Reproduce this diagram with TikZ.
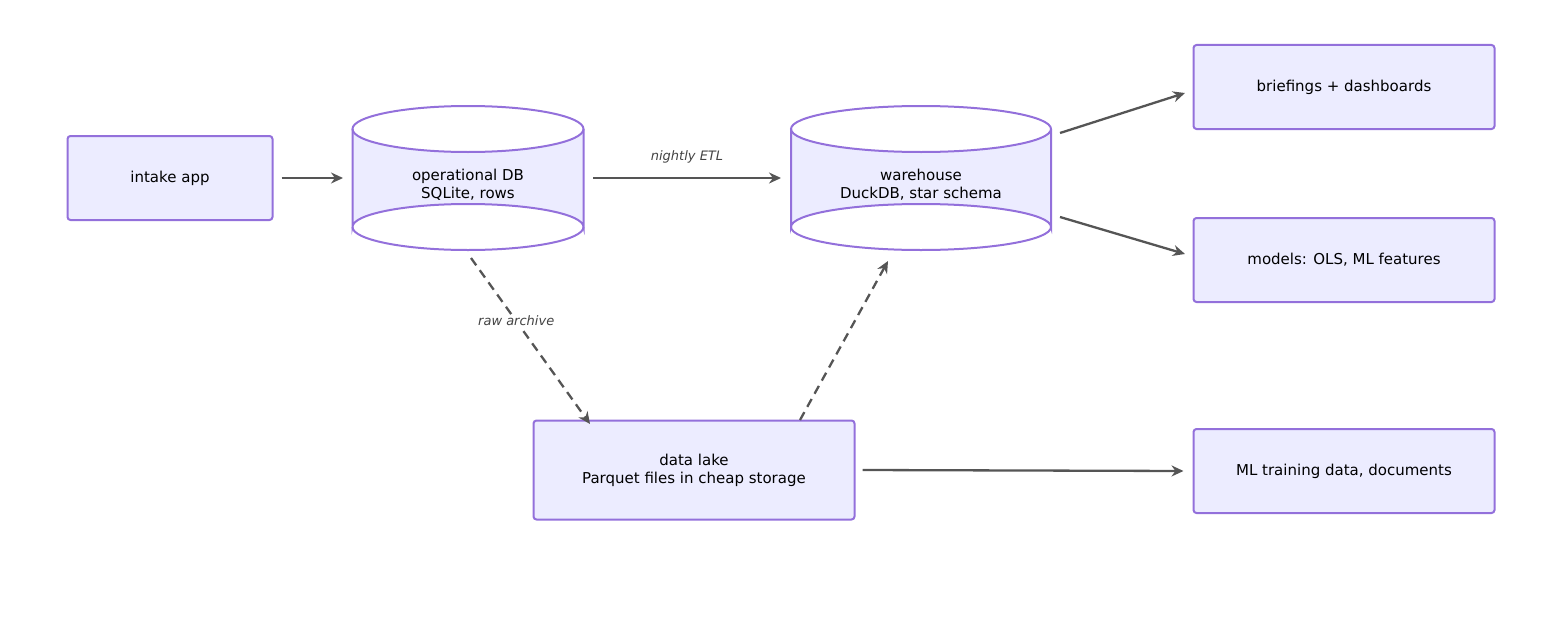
\documentclass[tikz,border=0pt]{standalone}
\usepackage{fontspec}
\setmainfont{DejaVu Sans}
\usetikzlibrary{arrows.meta}
\definecolor{nfill}{HTML}{ECECFF}
\definecolor{nstroke}{HTML}{9370DB}
\definecolor{edge}{HTML}{555555}
\definecolor{lbl}{HTML}{444444}
\begin{document}
\begin{tikzpicture}[x=1pt,y=-1pt,
  box/.style={draw=nstroke,fill=nfill,line width=2pt,rounded corners=3pt,inner sep=0pt,align=center,font=\fontsize{15}{18}\selectfont},
  txt/.style={align=center,font=\fontsize{15}{18}\selectfont,inner sep=0pt},
  conn/.style={draw=edge,line width=2.3pt,-{Stealth[length=12pt,width=11pt]}},
  dconn/.style={conn,dash pattern=on 9pt off 6pt},
  elbl/.style={font=\itshape\fontsize{13}{16}\selectfont,text=lbl,fill=white,inner sep=1pt}]
\useasboundingbox (0,0) rectangle (1552,626);
\node[box,minimum width=205,minimum height=84] (intake) at (170,178) {intake app};
\node[box,minimum width=301,minimum height=84] (brief) at (1344,87) {briefings + dashboards};
\node[box,minimum width=301,minimum height=84] (models) at (1344,260) {models: OLS, ML features};
\node[box,minimum width=301,minimum height=84] (mltrain) at (1344,471) {ML training data, documents};
\node[box,minimum width=321,minimum height=99] (lake) at (694,470) {data lake\\Parquet files in cheap storage};
% cylinders
\foreach \cx/\rx in {468/115.5, 921/130}{
  \fill[nfill] (\cx-\rx,129) -- (\cx-\rx,227) arc[start angle=180,end angle=360,x radius=\rx,y radius=23] -- (\cx+\rx,129) arc[start angle=0,end angle=180,x radius=\rx,y radius=23];
  \draw[nstroke,line width=2pt] (\cx-\rx,129) -- (\cx-\rx,227) arc[start angle=180,end angle=360,x radius=\rx,y radius=23] -- (\cx+\rx,129);
  \draw[nstroke,line width=2pt] (\cx,129) ellipse[x radius=\rx,y radius=23];
  \draw[nstroke,line width=2pt] (\cx-\rx,227) arc[start angle=180,end angle=0,x radius=\rx,y radius=23];
}
\node[txt] (opdb) at (468,185) {operational DB\\SQLite, rows};
\node[txt] (wh) at (921,185) {warehouse\\DuckDB, star schema};
\coordinate (opW) at (343,178); \coordinate (opE) at (593,178);
\coordinate (whW) at (781,178);
\coordinate (opS) at (471,258); \coordinate (whS) at (888,261);
\coordinate (whNE) at (1060,133); \coordinate (whSE) at (1060,217);
\coordinate (lakeA) at (590,424); \coordinate (lakeB) at (800,420);
\draw[conn] (intake.east) ++(8,0) -- (opW);
\draw[conn] (opE) -- (whW) node[midway,above=13pt,elbl] {nightly ETL};
\draw[conn] (whNE) -- (1185,93) coordinate (bW);
\draw[conn] (whSE) -- (1185,254) coordinate (mW);
\draw[dconn] (opS) -- (lakeA) node[pos=0.38,elbl] {raw archive};
\draw[dconn] (lakeB) -- (whS);
\draw[conn] (lake.east) ++(7,0) -- ([xshift=-9pt]mltrain.west);
\end{tikzpicture}
\end{document}
